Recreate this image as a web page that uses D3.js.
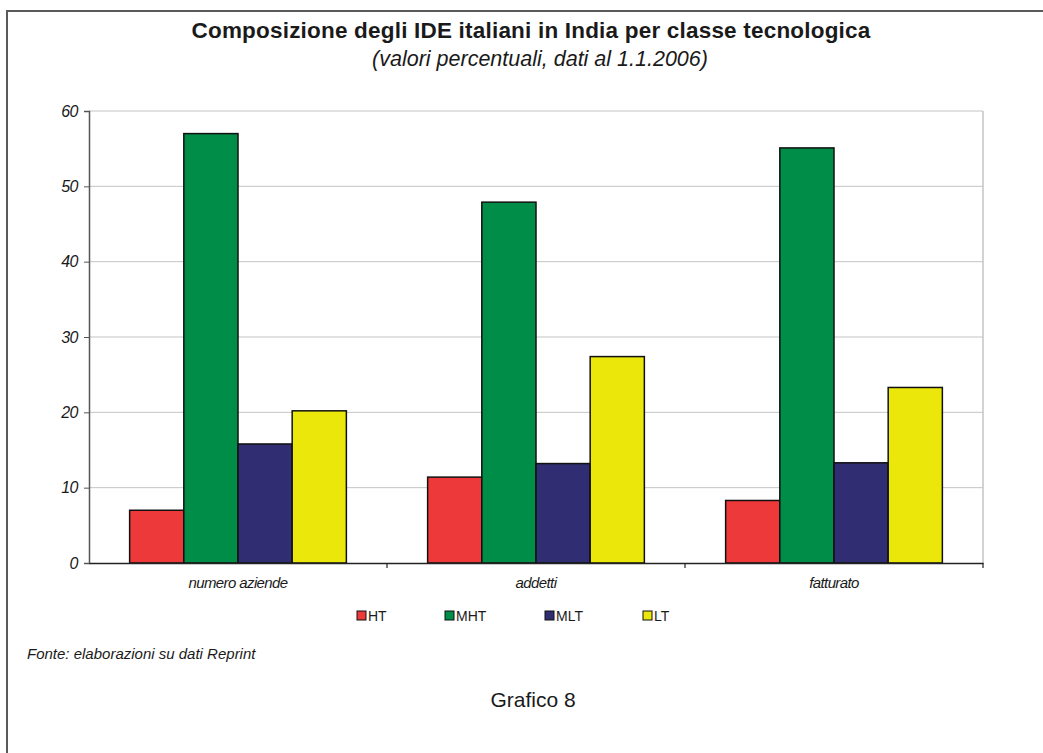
<!DOCTYPE html>
<html>
<head>
<meta charset="utf-8">
<script src="https://cdn.jsdelivr.net/npm/d3@7"></script>
<style>
  html, body { margin: 0; padding: 0; background: #fff; }
  svg { display: block; }
  text { font-family: "Liberation Sans", Arial, sans-serif; fill: #1a1a1a; }
</style>
</head>
<body>
<svg id="chart" width="1043" height="753"></svg>
<script>
// Composition of Italian FDI in India by technology class (%, 1.1.2006)
const categories = ["numero aziende", "addetti", "fatturato"];
const seriesNames = ["HT", "MHT", "MLT", "LT"];
const HT  = [7.0, 11.4, 8.3];
const MHT = [57.0, 47.9, 55.1];
const MLT = [15.8, 13.2, 13.3];
const LT  = [20.2, 27.4, 23.3];
const yTicks = [0, 10, 20, 30, 40, 50, 60];
const colors = ["#ee393b", "#008d48", "#302d72", "#ebe70b"];

const seriesValues = [HT, MHT, MLT, LT];
const table = categories.map((c, i) => ({
  category: c,
  values: seriesNames.map((s, j) => ({ series: s, value: seriesValues[j][i] }))
}));

const svg = d3.select("#chart");

// outer frame (top and left edges)
svg.append("path")
  .attr("d", "M7,753 V11 H1043")
  .attr("fill", "none")
  .attr("stroke", "#5a5a5a")
  .attr("stroke-width", 2);

// titles
svg.append("text")
  .attr("x", 531).attr("y", 38)
  .attr("text-anchor", "middle")
  .style("font-size", "22.5px").style("font-weight", "bold")
  .style("letter-spacing", "0.2px")
  .text("Composizione degli IDE italiani in India per classe tecnologica");
svg.append("text")
  .attr("x", 540).attr("y", 66)
  .attr("text-anchor", "middle")
  .style("font-size", "21.5px").style("font-style", "italic")
  .text("(valori percentuali, dati al 1.1.2006)");

const plot = { left: 89, right: 983, top: 111, bottom: 563 };

const x0 = d3.scaleBand()
  .domain(categories)
  .range([plot.left, plot.right])
  .paddingInner(0).paddingOuter(0);

const x1 = d3.scaleBand()
  .domain(seriesNames)
  .range([0, x0.bandwidth()])
  .paddingInner(0)
  .paddingOuter(0.75);

const y = d3.scaleLinear()
  .domain([0, 60])
  .range([plot.bottom, plot.top]);

// gridlines
svg.append("g")
  .selectAll("line")
  .data(yTicks.filter(t => t > 0))
  .join("line")
  .attr("x1", plot.left).attr("x2", plot.right)
  .attr("y1", d => y(d)).attr("y2", d => y(d))
  .attr("stroke", "#c4c4c4").attr("stroke-width", 1);

// right border of plot area
svg.append("line")
  .attr("x1", plot.right).attr("x2", plot.right)
  .attr("y1", plot.top).attr("y2", plot.bottom)
  .attr("stroke", "#c4c4c4").attr("stroke-width", 1.5);

// bars
const groups = svg.append("g")
  .selectAll("g")
  .data(table)
  .join("g")
  .attr("transform", d => `translate(${x0(d.category)},0)`);

groups.selectAll("rect")
  .data(d => d.values)
  .join("rect")
  .attr("x", d => x1(d.series))
  .attr("y", d => y(d.value))
  .attr("width", x1.bandwidth())
  .attr("height", d => y(0) - y(d.value))
  .attr("fill", (d, i) => colors[i])
  .attr("stroke", "#111")
  .attr("stroke-width", 1.5);

// y axis
const yAxis = svg.append("g")
  .attr("transform", `translate(${plot.left},0)`)
  .call(d3.axisLeft(y).tickValues(yTicks).tickSize(5).tickPadding(6));
yAxis.select(".domain").attr("stroke", "#555").attr("stroke-width", 1.5);
yAxis.selectAll(".tick line").attr("stroke", "#555");
yAxis.selectAll(".tick text")
  .style("font-family", "'Liberation Sans', Arial, sans-serif")
  .style("font-size", "16px").style("font-style", "italic")
  .style("letter-spacing", "-0.5px")
  .attr("fill", "#1a1a1a");

// x axis
const xAxis = svg.append("g")
  .attr("transform", `translate(0,${plot.bottom})`)
  .call(d3.axisBottom(x0).tickSize(0).tickPadding(14));
xAxis.select(".domain").attr("stroke", "#222").attr("stroke-width", 1.5);
xAxis.selectAll(".tick text")
  .style("font-family", "'Liberation Sans', Arial, sans-serif")
  .style("font-size", "15px").style("font-style", "italic")
  .style("letter-spacing", "-0.6px")
  .attr("fill", "#1a1a1a");
// category separator ticks
svg.append("g")
  .selectAll("line")
  .data(categories.slice(1).map(c => x0(c)).concat([plot.right]))
  .join("line")
  .attr("x1", d => d).attr("x2", d => d)
  .attr("y1", plot.bottom).attr("y2", plot.bottom + 5)
  .attr("stroke", "#222").attr("stroke-width", 1.2);

// legend
const legendX = [357, 445, 545, 643];
const legend = svg.append("g")
  .selectAll("g")
  .data(seriesNames)
  .join("g")
  .attr("transform", (d, i) => `translate(${legendX[i]},611)`);
legend.append("rect")
  .attr("width", 9).attr("height", 9)
  .attr("fill", (d, i) => colors[i])
  .attr("stroke", "#111").attr("stroke-width", 1);
legend.append("text")
  .attr("x", 11).attr("y", 9.5)
  .style("font-size", "14px")
  .text(d => d);

// source and figure number
svg.append("text")
  .attr("x", 27).attr("y", 659)
  .style("font-size", "15px").style("font-style", "italic")
  .text("Fonte: elaborazioni su dati Reprint");
svg.append("text")
  .attr("x", 533).attr("y", 707)
  .attr("text-anchor", "middle")
  .style("font-size", "21px")
  .text("Grafico 8");
</script>
</body>
</html>
